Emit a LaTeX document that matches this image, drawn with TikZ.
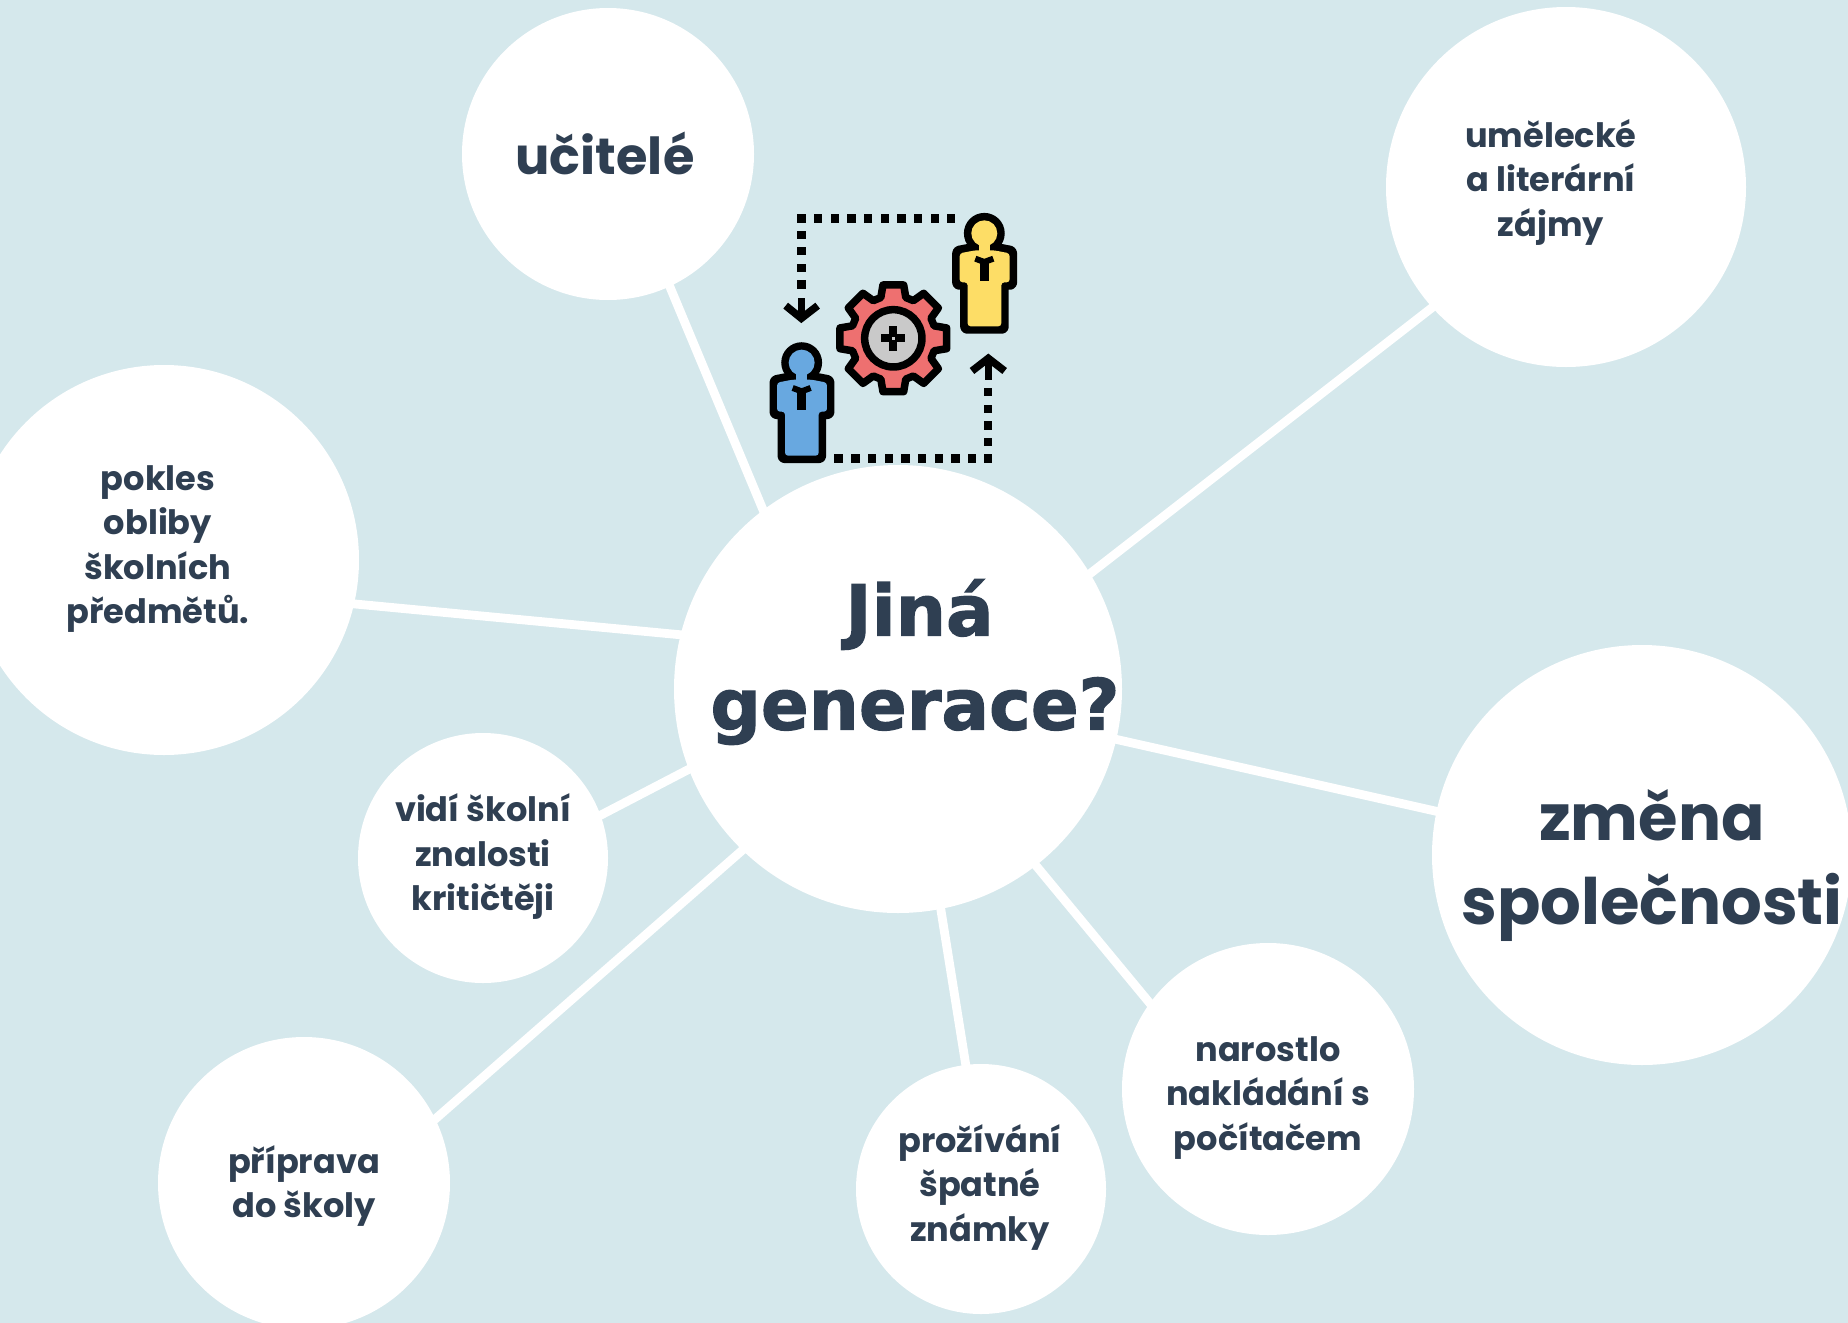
\documentclass[tikz,border=0pt]{standalone}
\usepackage{fontspec}
\newfontfamily\lblfont{Poppins}
\newfontfamily\titlefont[FakeBold=1.6]{DejaVu Sans Bold}
\definecolor{bgc}{HTML}{D5E8EC}
\definecolor{ink}{HTML}{2F3F52}
\definecolor{icoY}{HTML}{FDDD66}
\definecolor{icoB}{HTML}{68A8E0}
\definecolor{icoR}{HTML}{EE7070}
\definecolor{icoG}{HTML}{C9C9C9}
\tikzset{
  bub/.style={circle,fill=white,inner sep=0pt,minimum size=#1},
  link/.style={draw=white,line width=8.8pt,shorten <=-4pt,shorten >=-4pt},
  txt/.style={text=ink,align=center,inner sep=0pt},
  small/.style={txt,font=\lblfont\bfseries\fontsize{33.6}{44.5}\selectfont},
  big/.style={txt,font=\lblfont\bfseries\fontsize{51}{51}\selectfont},
  huge/.style={txt,font=\lblfont\bfseries\fontsize{64}{84}\selectfont},
  ttl/.style={txt,font=\titlefont\fontsize{70.5}{94}\selectfont},
}
\newcommand{\icoPerson}[3]{% x, y of head centre, colour
  \begin{scope}[shift={(#1,#2)}]
    \draw[black,fill=black,line width=7.5pt,line join=round,rounded corners=3pt]
      (-33,40) -- (-85,50) -- (-85,158) -- (-61,158) -- (-61,290) -- (62,290) -- (62,158) -- (87,158) -- (87,50) -- (35,40) -- cycle;
    \draw[black,fill=black,line width=7.5pt] (0,0) circle (50);
    \fill[#3,rounded corners=3pt]
      (-27,51) -- (-74,60) -- (-74,147) -- (-50,147) -- (-50,279) -- (51,279) -- (51,147) -- (76,147) -- (76,60) -- (29,51) -- cycle;
    \fill[#3] (0,0) circle (39);
    \fill[#3] (-17,25) rectangle (17,60);
    \draw[black,line width=6pt] (-27,76) -- (0,86) -- (27,76);
    \draw[black,line width=9pt] (0,85) -- (0,142);
  \end{scope}
}
\begin{document}
\begin{tikzpicture}[x=1pt,y=-1pt]
\useasboundingbox (0,0) rectangle (1848,1323);
\clip (0,0) rectangle (1848,1323);
\fill[bgc] (0,0) rectangle (1848,1323);

\node[bub=448pt] (hub) at (898,689) {};
\node[bub=292pt] (teach) at (608,154) {};
\node[bub=360pt] (art) at (1566,187) {};
\node[bub=390pt] (drop) at (164,560) {};
\node[bub=250pt] (crit) at (483,858) {};
\node[bub=292pt] (prep) at (304,1183) {};
\node[bub=250pt] (grade) at (981,1189) {};
\node[bub=292pt] (comp) at (1268,1089) {};
\node[bub=420pt] (soc) at (1642,855) {};

\draw[link] (hub.127.5) -- (teach.-65.9);
\draw[link] (hub.31) -- (art.222.4);
\draw[link] (hub.166.3) -- (drop.-13);
\draw[link] (hub.201.9) -- (crit.20.3);
\draw[link] (hub.226.9) -- (prep.26.6);
\draw[link] (hub.-79.7) -- (grade.97.7);
\draw[link] (hub.-52.6) -- (comp.144.5);
\draw[link] (hub.-13.3) -- (soc.168);

\node[big] (tTeach) at (605,153) {učitelé};
\node[small] (tArt) at (1551,182) {umělecké\\a literární\\zájmy};
\node[small] (tDrop) at (158,549) {pokles\\obliby\\školních\\předmětů.};
\node[small] (tCrit) at (483,857) {vidí školní\\znalosti\\kritičtěji};
\node[small] (tPrep) at (304,1186) {příprava\\do školy};
\node[small] (tGrade) at (980,1187) {prožívání\\špatné\\známky};
\node[small] (tComp) at (1268,1098) {narostlo\\nakládání s\\počítačem};
\node[huge] (tSoc) at (1652,865) {změna\\společnosti};
\node[ttl] (tHub) at (915,662) {\hspace*{9pt}Jiná\\generace?};

\begin{scope}[shift={(740,190)},x=0.3333pt,y=-0.3333pt]
  \foreach \qx/\qy in {184/85,235/85,285/85,335/85,385/85,435/85,485/85,535/85,585/85,634/85,184/134,184/184,184/234,184/284,
                       296/806,347/806,397/806,447/806,497/806,547/806,597/806,647/806,697/806,745/806,745/757,745/707,745/657,745/607}
    \fill[black] (\qx-12.5,\qy-12.5) rectangle (\qx+12.5,\qy+12.5);
  \draw[black,line width=7.5pt] (184,325) -- (184,385);
  \draw[black,line width=7.5pt,line join=miter] (137,347) -- (184,385) -- (233,347);
  \draw[black,line width=7.5pt] (745,570) -- (745,510);
  \draw[black,line width=7.5pt,line join=miter] (696,543) -- (745,505) -- (794,543);
  \icoPerson{733}{130}{icoY}
  \icoPerson{185}{518}{icoB}
  \begin{scope}[shift={(460,445)}]
    \draw[black,fill=icoR,line width=7.5pt,line join=round]
      (-11:163) \foreach \qa in {0,45,...,315}{ -- (\qa-11:163) -- (\qa+11:163) -- (\qa+17:128) -- (\qa+28:128)} -- cycle;
    \draw[black,fill=icoG,line width=7.5pt] (0,0) circle (86);
    \fill[black] (-36,-12) rectangle (36,12);
    \fill[black] (-12,-37) rectangle (12,37);
    \fill[icoG] (-4,-4) rectangle (4,4);
  \end{scope}
\end{scope}
\end{tikzpicture}
\end{document}
